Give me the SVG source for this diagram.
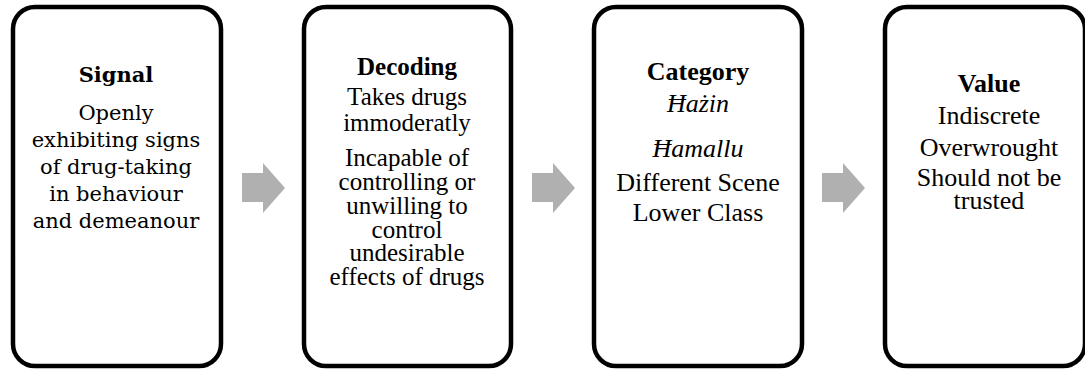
<svg xmlns="http://www.w3.org/2000/svg" width="1085" height="369" viewBox="0 0 1085 369">
<style>
.box{fill:#fff;stroke:#000;stroke-width:4.5}
.arr{fill:#b0b0b0;stroke:none}
.c{font-family:"DejaVu Serif",serif;font-size:21px;fill:#000;text-anchor:middle}
.t{font-family:"Liberation Serif","Times New Roman",serif;font-size:25px;fill:#000;text-anchor:middle}
.t26{font-size:26px}
.b{font-weight:bold}
.i{font-style:italic}
</style>
<rect width="1085" height="369" fill="#fff"/>
<g id="connectors">
<polygon class="arr" points="242,173 263,173 263,163 285,188 263,213 263,202 242,202"/>
<polygon class="arr" points="532,173 553,173 553,163 575,188 553,213 553,202 532,202"/>
<polygon class="arr" points="822,173 843,173 843,163 865,188 843,213 843,202 822,202"/>
</g>
<g id="signal">
<rect class="box" x="13" y="7" width="208" height="359" rx="22"/>
<text class="c b" x="116" y="82">Signal</text>
<text class="c" x="116" y="120">Openly</text>
<text class="c" x="116" y="147">exhibiting signs</text>
<text class="c" x="116" y="174">of drug-taking</text>
<text class="c" x="116" y="201">in behaviour</text>
<text class="c" x="116" y="228">and demeanour</text>
</g>
<g id="decoding">
<rect class="box" x="304" y="7" width="207" height="359" rx="22"/>
<text class="t b" x="407" y="75">Decoding</text>
<text class="t" x="407" y="105">Takes drugs</text>
<text class="t" x="407" y="131">immoderatly</text>
<text class="t" x="407" y="166">Incapable of</text>
<text class="t" x="407" y="190">controlling or</text>
<text class="t" x="407" y="214">unwilling to</text>
<text class="t" x="407" y="238">control</text>
<text class="t" x="407" y="261">undesirable</text>
<text class="t" x="407" y="285">effects of drugs</text>
</g>
<g id="category">
<rect class="box" x="594" y="7" width="208" height="359" rx="22"/>
<text class="t t26 b" x="698" y="80">Category</text>
<text class="t t26 i" x="698" y="112">Ħażin</text>
<text class="t t26 i" x="698" y="157">Ħamallu</text>
<text class="t t26" x="698" y="191">Different Scene</text>
<text class="t t26" x="698" y="221">Lower Class</text>
</g>
<g id="value">
<rect class="box" x="885" y="7" width="200" height="359" rx="22"/>
<text class="t t26 b" x="989" y="92">Value</text>
<text class="t t26" x="989" y="124">Indiscrete</text>
<text class="t t26" x="989" y="156">Overwrought</text>
<text class="t t26" x="989" y="186">Should not be</text>
<text class="t t26" x="989" y="209">trusted</text>
</g>
</svg>
